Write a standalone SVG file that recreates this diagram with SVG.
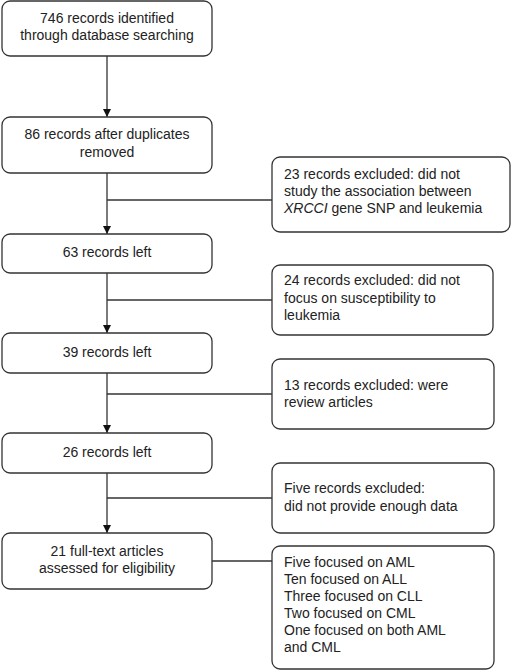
<svg xmlns="http://www.w3.org/2000/svg" width="512" height="670" viewBox="0 0 512 670">
<style>
.box{fill:#fff;stroke:#333;stroke-width:1.3}
.t{font-family:"Liberation Sans",Arial,sans-serif;font-size:14px;fill:#222}
.c{text-anchor:middle}
.ln{stroke:#333;stroke-width:1.3;fill:none}
</style>
<defs>
<marker id="ah" viewBox="0 0 10 10" refX="10" refY="5" markerWidth="8" markerHeight="8" markerUnits="userSpaceOnUse" orient="auto">
<path d="M0,0 L10,5 L0,10 Z" fill="#111"/>
</marker>
</defs>
<rect width="512" height="670" fill="#fff"/>
<g id="connectors">
<line class="ln" x1="107" y1="56" x2="107" y2="117" marker-end="url(#ah)"/>
<line class="ln" x1="107" y1="173" x2="107" y2="234" marker-end="url(#ah)"/>
<line class="ln" x1="107" y1="273" x2="107" y2="333" marker-end="url(#ah)"/>
<line class="ln" x1="107" y1="373" x2="107" y2="433" marker-end="url(#ah)"/>
<line class="ln" x1="107" y1="473" x2="107" y2="533" marker-end="url(#ah)"/>
<line class="ln" x1="107" y1="200" x2="272" y2="200"/>
<line class="ln" x1="107" y1="300" x2="272" y2="300"/>
<line class="ln" x1="107" y1="394" x2="272" y2="394"/>
<line class="ln" x1="107" y1="498" x2="272" y2="498"/>
<line class="ln" x1="212" y1="561" x2="272" y2="561"/>
</g>
<g id="n1"><rect class="box" x="2" y="1" width="210" height="55" rx="8"/>
<text class="t c" x="107" y="23">746 records identified</text>
<text class="t c" x="107" y="40">through database searching</text></g>
<g id="n2"><rect class="box" x="2" y="117" width="210" height="56" rx="8"/>
<text class="t c" x="107" y="139">86 records after duplicates</text>
<text class="t c" x="107" y="157">removed</text></g>
<g id="n3"><rect class="box" x="2" y="234" width="210" height="39" rx="8"/>
<text class="t c" x="107" y="257">63 records left</text></g>
<g id="n4"><rect class="box" x="2" y="333" width="210" height="40" rx="8"/>
<text class="t c" x="107" y="357">39 records left</text></g>
<g id="n5"><rect class="box" x="2" y="433" width="210" height="40" rx="8"/>
<text class="t c" x="107" y="457">26 records left</text></g>
<g id="n6"><rect class="box" x="2" y="533" width="210" height="56" rx="8"/>
<text class="t c" x="107" y="556">21 full-text articles</text>
<text class="t c" x="107" y="573">assessed for eligibility</text></g>
<g id="r1"><rect class="box" x="272" y="157" width="238" height="75" rx="8"/>
<text class="t" x="284" y="179">23 records excluded: did not</text>
<text class="t" x="284" y="196">study the association between</text>
<text class="t" x="284" y="213"><tspan font-style="italic">XRCCI</tspan> gene SNP and leukemia</text></g>
<g id="r2"><rect class="box" x="272" y="265" width="221" height="70" rx="8"/>
<text class="t" x="284" y="285">24 records excluded: did not</text>
<text class="t" x="284" y="303">focus on susceptibility to</text>
<text class="t" x="284" y="320">leukemia</text></g>
<g id="r3"><rect class="box" x="272" y="359" width="222" height="70" rx="8"/>
<text class="t" x="284" y="390">13 records excluded: were</text>
<text class="t" x="284" y="407">review articles</text></g>
<g id="r4"><rect class="box" x="272" y="463" width="222" height="70" rx="8"/>
<text class="t" x="284" y="493">Five records excluded:</text>
<text class="t" x="284" y="511">did not provide enough data</text></g>
<g id="r5"><rect class="box" x="272" y="546" width="222" height="123" rx="8"/>
<text class="t" x="284" y="567">Five focused on AML</text>
<text class="t" x="284" y="584">Ten focused on ALL</text>
<text class="t" x="284" y="601">Three focused on CLL</text>
<text class="t" x="284" y="618">Two focused on CML</text>
<text class="t" x="284" y="635">One focused on both AML</text>
<text class="t" x="284" y="652">and CML</text></g>
</svg>
